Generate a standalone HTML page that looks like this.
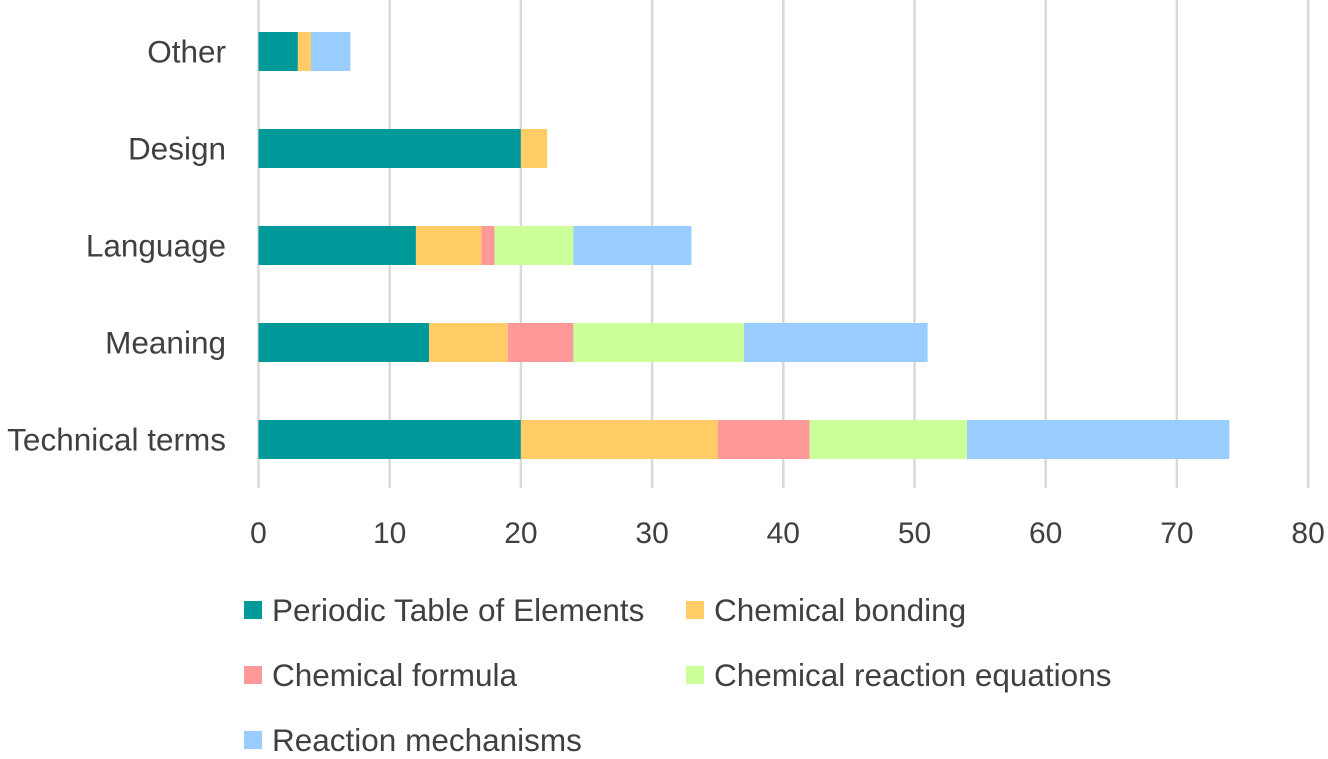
<!DOCTYPE html>
<html><head><meta charset="utf-8"><style>
body{margin:0;background:#fff;width:1328px;height:754px;overflow:hidden}
svg text{font-family:"Liberation Sans",sans-serif;fill:#404040}
</style></head><body>
<svg id="chart" width="1328" height="754" xmlns="http://www.w3.org/2000/svg"></svg>
<script>
const categories=["Technical terms","Meaning","Language","Design","Other"];
const seriesNames=["Periodic Table of Elements","Chemical bonding","Chemical formula","Chemical reaction equations","Reaction mechanisms"];
const periodicTable=[20,13,12,20,3];
const chemicalBonding=[15,6,5,2,1];
const chemicalFormula=[7,5,1,0,0];
const reactionEquations=[12,13,6,0,0];
const reactionMechanisms=[20,14,9,0,3];
const xTicks=[0,10,20,30,40,50,60,70,80];
const colors=["#009999","#FFCC66","#FF9999","#CCFF99","#99CCFF"];
const series=[periodicTable,chemicalBonding,chemicalFormula,reactionEquations,reactionMechanisms];
const NS="http://www.w3.org/2000/svg";
const svg=document.getElementById('chart');
const x0=258.5,xs=13.12;
function xPos(v){return x0+v*xs;}
function yCenter(i){return 439.5-i*97;}
function el(t,a,p){const e=document.createElementNS(NS,t);for(const k in a)e.setAttribute(k,a[k]);(p||svg).appendChild(e);return e;}
xTicks.forEach(t=>{
  const g=el('line',{x1:xPos(t),x2:xPos(t),y1:0,y2:488,stroke:'#d9d9d9','stroke-width':2.5});
  
  
  const l=el('text',{x:xPos(t),y:543,'text-anchor':'middle','font-size':30});
  l.textContent=t;
  
  
});
categories.forEach((c,i)=>{
  const l=el('text',{x:226,y:yCenter(i)+11,'text-anchor':'end','font-size':31.5});
  l.textContent=c;
  
  
  let acc=0;
  series.forEach((s,j)=>{
    const v=s[i];
    if(v>0){
      const r=el('rect',{x:xPos(acc),y:yCenter(i)-19.5,width:v*xs,height:39,fill:colors[j]});
      
      
    }
    acc+=v;
  });
});
const legPos=[[244,610],[686,610],[244,675],[686,675],[244,740]];
seriesNames.forEach((n,j)=>{
  const [lx,ly]=legPos[j];
  const s=el('rect',{x:lx,y:ly-9,width:18,height:18,fill:colors[j]});
  
  
  const t=el('text',{x:lx+28,y:ly+11,'font-size':31.5});
  t.textContent=n;
  
  
});
</script>
</body></html>
